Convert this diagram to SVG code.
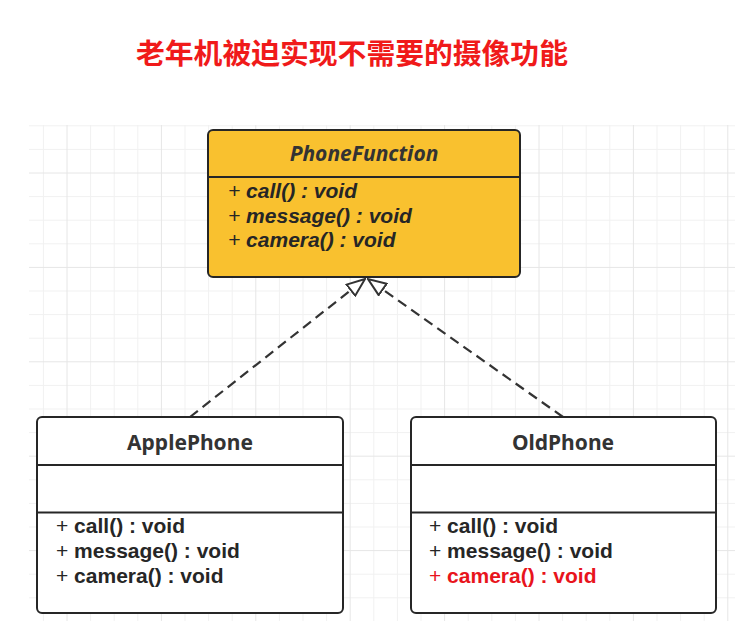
<svg xmlns="http://www.w3.org/2000/svg" width="741" height="621" viewBox="0 0 741 621">
<style>
.minor{stroke:#f1f1f1;stroke-width:1;fill:none}
.major{stroke:#e6e6e6;stroke-width:1;fill:none}
.box{stroke:#262626;stroke-width:2}
.div{stroke:#262626;stroke-width:2}
.t{font-family:"Noto Sans","Open Sans",sans-serif;font-size:21px;font-weight:bold;fill:#333}
.m{font-family:"Liberation Sans",Arial,sans-serif;font-size:21px;font-weight:bold;fill:#262626}
.p{font-weight:normal}
.red{fill:#e8141c}
.conn{stroke:#333;stroke-width:2.2;fill:none;stroke-dasharray:10 6}
</style>
<defs>
<marker id="tri" viewBox="0 0 20 16" refX="19" refY="8" markerWidth="20" markerHeight="16" markerUnits="userSpaceOnUse" orient="auto">
<path d="M1,1 L19,8 L1,15 Z" fill="#fff" stroke="#333" stroke-width="2" stroke-linejoin="miter"/>
</marker>
</defs>
<rect width="741" height="621" fill="#fff"/>
<g id="grid">
<path class="minor" d="M43.4,125V621M90.6,125V621M114.2,125V621M137.8,125V621M185,125V621M208.6,125V621M232.2,125V621M279.4,125V621M303,125V621M326.6,125V621M373.8,125V621M397.4,125V621M421,125V621M468.2,125V621M491.8,125V621M515.4,125V621M562.6,125V621M586.2,125V621M609.8,125V621M657,125V621M680.6,125V621M704.2,125V621M29,125.8H735M29,149.4H735M29,196.6H735M29,220.2H735M29,243.8H735M29,291H735M29,314.6H735M29,338.2H735M29,385.4H735M29,409H735M29,432.6H735M29,479.8H735M29,503.4H735M29,527H735M29,574.2H735M29,597.8H735"/>
<path class="major" d="M67,125V621M161.4,125V621M255.8,125V621M350.2,125V621M444.6,125V621M539,125V621M633.4,125V621M727.8,125V621M29,173H735M29,267.4H735M29,361.8H735M29,456.2H735M29,550.6H735"/>
</g>
<text x="136" y="64" font-family="'Noto Sans CJK SC','Noto Sans',sans-serif" font-size="28.8" font-weight="bold" fill="#f01a1a">老年机被迫实现不需要的摄像功能</text>
<g id="connectors">
<path class="conn" d="M190,417 L365,279" marker-end="url(#tri)"/>
<path class="conn" d="M563,417 L368,279" marker-end="url(#tri)"/>
</g>
<g id="PhoneFunction">
<rect class="box" x="208" y="130" width="312" height="147" rx="5" fill="#f9c12f"/>
<line class="div" x1="208" y1="177" x2="520" y2="177"/>
<text class="t" x="364" y="161" text-anchor="middle" font-style="italic">PhoneFunction</text>
<text class="m" x="228" y="198" font-style="italic"><tspan class="p">+ </tspan>call() : void</text>
<text class="m" x="228" y="222.5" font-style="italic"><tspan class="p">+ </tspan>message() : void</text>
<text class="m" x="228" y="247" font-style="italic"><tspan class="p">+ </tspan>camera() : void</text>
</g>
<g id="ApplePhone">
<rect class="box" x="37" y="417" width="306" height="196" rx="5" fill="#fff"/>
<line class="div" x1="37" y1="465" x2="343" y2="465"/>
<line class="div" x1="37" y1="512.5" x2="343" y2="512.5"/>
<text class="t" x="190" y="450" text-anchor="middle">ApplePhone</text>
<text class="m" x="56" y="533"><tspan class="p">+ </tspan>call() : void</text>
<text class="m" x="56" y="558"><tspan class="p">+ </tspan>message() : void</text>
<text class="m" x="56" y="583"><tspan class="p">+ </tspan>camera() : void</text>
</g>
<g id="OldPhone">
<rect class="box" x="411" y="417" width="305" height="196" rx="5" fill="#fff"/>
<line class="div" x1="411" y1="465" x2="716" y2="465"/>
<line class="div" x1="411" y1="512.5" x2="716" y2="512.5"/>
<text class="t" x="563" y="450" text-anchor="middle">OldPhone</text>
<text class="m" x="429" y="533"><tspan class="p">+ </tspan>call() : void</text>
<text class="m" x="429" y="558"><tspan class="p">+ </tspan>message() : void</text>
<text class="m red" x="429" y="583"><tspan class="p">+ </tspan>camera() : void</text>
</g>
</svg>
